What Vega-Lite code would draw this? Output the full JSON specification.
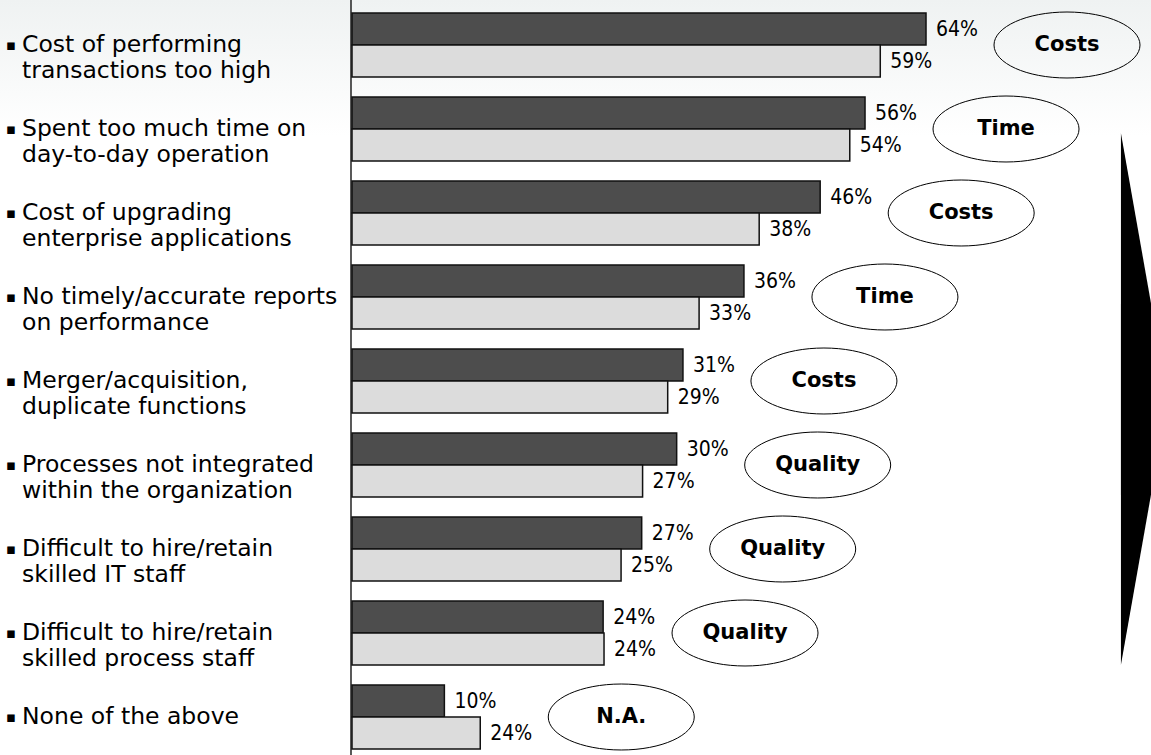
{
  "$schema": "https://vega.github.io/schema/vega-lite/v6.json",
  "width": 1151,
  "height": 755,
  "padding": 0,
  "autosize": {"type": "none"},
  "background": "white",
  "config": {"view": {"stroke": null}, "axis": {"disable": true}},
  "datasets": {
    "items": [
      {"item": "Cost of performing transactions too high", "label": ["Cost of performing", "transactions too high"], "theme": "Costs"},
      {"item": "Spent too much time on day-to-day operation", "label": ["Spent too much time on", "day-to-day operation"], "theme": "Time"},
      {"item": "Cost of upgrading enterprise applications", "label": ["Cost of upgrading", "enterprise applications"], "theme": "Costs"},
      {"item": "No timely/accurate reports on performance", "label": ["No timely/accurate reports", "on performance"], "theme": "Time"},
      {"item": "Merger/acquisition, duplicate functions", "label": ["Merger/acquisition,", "duplicate functions"], "theme": "Costs"},
      {"item": "Processes not integrated within the organization", "label": ["Processes not integrated", "within the organization"], "theme": "Quality"},
      {"item": "Difficult to hire/retain skilled IT staff", "label": ["Difficult to hire/retain", "skilled IT staff"], "theme": "Quality"},
      {"item": "Difficult to hire/retain skilled process staff", "label": ["Difficult to hire/retain", "skilled process staff"], "theme": "Quality"},
      {"item": "None of the above", "label": ["None of the above"], "theme": "N.A."}
    ],
    "bars": [
      {"item": "Cost of performing transactions too high", "series": "Series 1", "len": 64.0, "pct": 64},
      {"item": "Cost of performing transactions too high", "series": "Series 2", "len": 58.9, "pct": 59},
      {"item": "Spent too much time on day-to-day operation", "series": "Series 1", "len": 57.2, "pct": 56},
      {"item": "Spent too much time on day-to-day operation", "series": "Series 2", "len": 55.5, "pct": 54},
      {"item": "Cost of upgrading enterprise applications", "series": "Series 1", "len": 52.2, "pct": 46},
      {"item": "Cost of upgrading enterprise applications", "series": "Series 2", "len": 45.4, "pct": 38},
      {"item": "No timely/accurate reports on performance", "series": "Series 1", "len": 43.7, "pct": 36},
      {"item": "No timely/accurate reports on performance", "series": "Series 2", "len": 38.7, "pct": 33},
      {"item": "Merger/acquisition, duplicate functions", "series": "Series 1", "len": 36.9, "pct": 31},
      {"item": "Merger/acquisition, duplicate functions", "series": "Series 2", "len": 35.2, "pct": 29},
      {"item": "Processes not integrated within the organization", "series": "Series 1", "len": 36.2, "pct": 30},
      {"item": "Processes not integrated within the organization", "series": "Series 2", "len": 32.4, "pct": 27},
      {"item": "Difficult to hire/retain skilled IT staff", "series": "Series 1", "len": 32.3, "pct": 27},
      {"item": "Difficult to hire/retain skilled IT staff", "series": "Series 2", "len": 30.0, "pct": 25},
      {"item": "Difficult to hire/retain skilled process staff", "series": "Series 1", "len": 28.0, "pct": 24},
      {"item": "Difficult to hire/retain skilled process staff", "series": "Series 2", "len": 28.1, "pct": 24},
      {"item": "None of the above", "series": "Series 1", "len": 10.3, "pct": 10},
      {"item": "None of the above", "series": "Series 2", "len": 14.3, "pct": 24}
    ]
  },
  "encoding": {
    "y": {
      "field": "item",
      "type": "nominal",
      "axis": null,
      "sort": [
        "Cost of performing transactions too high",
        "Spent too much time on day-to-day operation",
        "Cost of upgrading enterprise applications",
        "No timely/accurate reports on performance",
        "Merger/acquisition, duplicate functions",
        "Processes not integrated within the organization",
        "Difficult to hire/retain skilled IT staff",
        "Difficult to hire/retain skilled process staff",
        "None of the above"
      ],
      "scale": {"range": [3, 759], "paddingInner": 0.238, "paddingOuter": 0.119}
    }
  },
  "layer": [
    {
      "data": {"values": [{"a": 1}]},
      "mark": {
        "type": "rect",
        "fill": {"gradient": "linear", "x1": 0, "y1": 0, "x2": 0, "y2": 1, "stops": [{"offset": 0, "color": "#eff2f2"}, {"offset": 0.18, "color": "#ffffff"}, {"offset": 1, "color": "#ffffff"}]},
        "stroke": null
      },
      "encoding": {
        "y": null,
        "x": {"datum": -39.246, "type": "quantitative", "axis": null, "scale": {"domain": [-39.246, 89.085], "nice": false, "zero": false}},
        "x2": {"datum": 89.085}
      }
    },
    {
      "data": {"values": [{"a": 1}]},
      "mark": {"type": "rule", "color": "#222222", "strokeWidth": 1.5, "xOffset": -1},
      "encoding": {
        "y": null,
        "x": {"datum": 0, "type": "quantitative", "axis": null}
      }
    },
    {
      "data": {"name": "bars"},
      "mark": {"type": "bar", "stroke": "#111111", "strokeWidth": 1.5},
      "encoding": {
        "x": {"field": "len", "type": "quantitative", "axis": null},
        "yOffset": {"field": "series", "type": "nominal", "scale": {"paddingInner": 0, "paddingOuter": 0}},
        "fill": {"field": "series", "type": "nominal", "legend": null, "scale": {"range": ["#4d4d4d", "#dcdcdc"]}}
      }
    },
    {
      "data": {"name": "bars"},
      "transform": [{"calculate": "datum.pct + '%'", "as": "pctLabel"}],
      "mark": {"type": "text", "align": "left", "baseline": "middle", "dx": 10, "dy": 1, "font": "DejaVu Sans Condensed, DejaVu Sans", "fontSize": 21, "color": "#000000"},
      "encoding": {
        "x": {"field": "len", "type": "quantitative", "axis": null},
        "yOffset": {"field": "series", "type": "nominal"},
        "text": {"field": "pctLabel"}
      }
    },
    {
      "data": {"name": "bars"},
      "transform": [
        {"joinaggregate": [{"op": "max", "field": "len", "as": "maxlen"}], "groupby": ["item"]},
        {"filter": "datum.series === 'Series 1'"},
        {"lookup": "item", "from": {"data": {"name": "items"}, "key": "item", "fields": ["theme"]}}
      ],
      "mark": {
        "type": "point",
        "shape": "M-1,0C-1,-0.2496,-0.5523,-0.452,0,-0.452C0.5523,-0.452,1,-0.2496,1,0C1,0.2496,0.5523,0.452,0,0.452C-0.5523,0.452,-1,0.2496,-1,0Z",
        "size": 21316,
        "filled": false,
        "stroke": "#000000",
        "strokeWidth": 1,
        "opacity": 1,
        "xOffset": 141
      },
      "encoding": {
        "x": {"field": "maxlen", "type": "quantitative", "axis": null}
      }
    },
    {
      "data": {"name": "bars"},
      "transform": [
        {"joinaggregate": [{"op": "max", "field": "len", "as": "maxlen"}], "groupby": ["item"]},
        {"filter": "datum.series === 'Series 1'"},
        {"lookup": "item", "from": {"data": {"name": "items"}, "key": "item", "fields": ["theme"]}}
      ],
      "mark": {"type": "text", "align": "center", "baseline": "middle", "font": "DejaVu Sans", "fontWeight": "bold", "fontSize": 21, "color": "#000000", "xOffset": 141},
      "encoding": {
        "x": {"field": "maxlen", "type": "quantitative", "axis": null},
        "text": {"field": "theme"}
      }
    },
    {
      "data": {"name": "items"},
      "mark": {"type": "text", "align": "left", "baseline": "middle", "font": "DejaVu Sans", "fontSize": 23.5, "lineHeight": 26, "color": "#000000"},
      "encoding": {
        "x": {"datum": -36.79, "type": "quantitative"},
        "text": {"field": "label"}
      }
    },
    {
      "data": {"name": "items"},
      "transform": [{"calculate": "length(datum.label) > 1 ? ['▪', ' '] : ['▪']", "as": "bullet"}],
      "mark": {"type": "text", "align": "left", "baseline": "middle", "font": "DejaVu Sans", "fontSize": 15, "lineHeight": 26, "color": "#000000"},
      "encoding": {
        "x": {"datum": -38.6, "type": "quantitative"},
        "text": {"field": "bullet"}
      }
    },
    {
      "data": {"values": [{"a": 1}]},
      "mark": {"type": "point", "shape": "M0,-2.48L0,2.84L0.47,0.18Z", "size": 40000, "filled": true, "fill": "#000000", "stroke": null, "opacity": 1},
      "encoding": {
        "x": {"datum": 85.73, "type": "quantitative"},
        "y": {"datum": "Merger/acquisition, duplicate functions", "type": "nominal"}
      }
    }
  ]
}
